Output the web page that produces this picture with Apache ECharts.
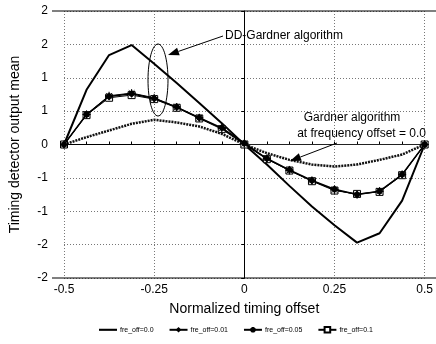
<!DOCTYPE html>
<html>
<head>
<meta charset="utf-8">
<script src="https://cdn.jsdelivr.net/npm/echarts@6/dist/echarts.min.js"></script>
<style>
  html, body { margin: 0; padding: 0; background: #fff; }
  #chart { width: 436px; height: 344px; }
</style>
</head>
<body>
<div id="chart"></div>
<script>
// Normalized timing offsets (sampling positions)
const timingOffset = [-0.5, -0.4375, -0.375, -0.3125, -0.25, -0.1875, -0.125, -0.0625, 0,
                      0.0625, 0.125, 0.1875, 0.25, 0.3125, 0.375, 0.4375, 0.5];

// DD-Gardner detector mean output, one curve per frequency offset
const ddOff000 = [0, 0.82, 1.34, 1.49, 1.21, 0.92, 0.62, 0.32, 0, -0.30, -0.62, -0.93, -1.21, -1.47, -1.33, -0.84, 0];
const ddOff001 = [0, 0.45, 0.72, 0.76, 0.69, 0.56, 0.40, 0.25, 0.02, -0.21, -0.38, -0.54, -0.67, -0.75, -0.70, -0.45, 0];
const ddOff005 = [0, 0.45, 0.73, 0.77, 0.70, 0.56, 0.40, 0.24, 0.01, -0.21, -0.39, -0.54, -0.68, -0.75, -0.70, -0.45, 0];
const ddOff010 = [0, 0.44, 0.70, 0.74, 0.68, 0.55, 0.39, 0.23, 0, -0.22, -0.39, -0.55, -0.69, -0.74, -0.71, -0.46, 0];

// Conventional Gardner detector at zero frequency offset
const gardnerOff000 = [0, 0.11, 0.21, 0.31, 0.37, 0.33, 0.27, 0.16, 0, -0.13, -0.23, -0.30, -0.33, -0.30, -0.23, -0.15, 0];

// Tick labels as printed on the value axis (rounded to integers)
const yTickLabels = ['-2', '-2', '-1', '-1', '0', '1', '1', '2', '2'];
const xTickValues = [-0.5, -0.25, 0, 0.25, 0.5];

const seriesNames = ['fre_off=0.0', 'fre_off=0.01', 'fre_off=0.05', 'fre_off=0.1'];

const pairs = ys => timingOffset.map((x, i) => [x, ys[i]]);

const FONT = 'Liberation Sans, Arial, sans-serif';
const asterisk = 'path://M5,0L5,10M0,5L10,5M1.5,1.5L8.5,8.5M1.5,8.5L8.5,1.5';
// bar centred in a taller box, used as a plain thick-line legend key
const thickLineIcon = 'path://M0,0L0,0M0,2.6L24,2.6L24,5.4L0,5.4ZM0,8L0,8';

function arrow(x1, y1, x2, y2) {
  // shaft from (x1,y1) to tip (x2,y2) with a filled head
  const ang = Math.atan2(y2 - y1, x2 - x1);
  const L = 11, W = 4;
  const bx = x2 - L * Math.cos(ang), by = y2 - L * Math.sin(ang);
  const px = -Math.sin(ang) * W, py = Math.cos(ang) * W;
  return [
    { type: 'line', shape: { x1: x1, y1: y1, x2: bx, y2: by }, style: { stroke: '#000', lineWidth: 1 }, z: 100 },
    { type: 'polygon', shape: { points: [[x2, y2], [bx + px, by + py], [bx - px, by - py]] }, style: { fill: '#000' }, z: 100 }
  ];
}

const chart = echarts.init(document.getElementById('chart'), null, { renderer: 'canvas' });

const option = {
  animation: false,
  backgroundColor: '#fff',
  textStyle: { fontFamily: FONT, color: '#000' },
  grid: { left: 63, right: 9, top: 11, bottom: 66 },
  legend: {
    data: [
      { name: seriesNames[0], icon: thickLineIcon },
      { name: seriesNames[1] },
      { name: seriesNames[2] },
      { name: seriesNames[3] }
    ],
    top: 321,
    left: 94,
    itemWidth: 18,
    itemHeight: 7,
    itemGap: 15,
    textStyle: { fontSize: 7, color: '#000', fontFamily: FONT, padding: [0, 0, 0, -2] }
  },
  xAxis: {
    type: 'value',
    min: -0.5,
    max: 0.5,
    interval: 0.25,
    name: 'Normalized timing offset',
    nameLocation: 'middle',
    nameGap: 24,
    nameTextStyle: { fontSize: 14, color: '#000', fontFamily: FONT },
    axisLine: { show: true, lineStyle: { color: '#000', width: 1 } },
    axisTick: { show: true, inside: true, length: 3, lineStyle: { color: '#000' } },
    minorTick: { show: true, splitNumber: 4, length: 3, lineStyle: { color: '#000' } },
    axisLabel: {
      fontSize: 12, color: '#000', margin: 6, fontFamily: FONT,
      formatter: v => (xTickValues.indexOf(+v.toFixed(4)) >= 0 ? String(+v.toFixed(2)) : '')
    },
    splitLine: { show: true, lineStyle: { color: '#777', type: [1, 2], width: 1 } }
  },
  yAxis: {
    type: 'value',
    min: -2,
    max: 2,
    interval: 0.5,
    offset: 11,
    name: 'Timing detector output mean',
    nameLocation: 'middle',
    nameGap: 31,
    nameTextStyle: { fontSize: 14, color: '#000', fontFamily: FONT },
    axisLine: { show: true, lineStyle: { color: '#000', width: 1 } },
    axisTick: { show: true, length: 3, lineStyle: { color: '#000' } },
    axisLabel: {
      fontSize: 12, color: '#000', margin: 5, fontFamily: FONT,
      formatter: (v, i) => yTickLabels[i]
    },
    splitLine: { show: true, lineStyle: { color: '#777', type: [1, 2], width: 1 } }
  },
  series: [
    {
      name: 'fre_off=0.0',
      type: 'line',
      data: pairs(ddOff000),
      symbol: 'none',
      lineStyle: { color: '#000', width: 2 },
      itemStyle: { color: '#000' },
      z: 3,
      markLine: {
        silent: true,
        symbol: 'none',
        label: { show: false },
        lineStyle: { color: '#222', width: 1, type: 'solid' },
        data: [[{ coord: [0, 0] }, { coord: [0.5, 0] }]]
      }
    },
    {
      name: 'gardner',
      type: 'line',
      data: pairs(gardnerOff000),
      symbol: 'none',
      smooth: false,
      lineStyle: { color: '#111', width: 2.5, type: [2, 1] },
      z: 2
    },
    {
      name: 'fre_off=0.1',
      type: 'line',
      data: pairs(ddOff010),
      symbol: 'rect',
      symbolSize: 7,
      lineStyle: { color: '#000', width: 1 },
      itemStyle: { color: '#fff', borderColor: '#000', borderWidth: 1 },
      z: 4
    },
    {
      name: 'fre_off=0.05',
      type: 'line',
      data: pairs(ddOff005),
      symbol: asterisk,
      symbolSize: 8,
      lineStyle: { color: '#000', width: 1 },
      itemStyle: { color: '#000', borderColor: '#000', borderWidth: 1 },
      z: 5
    },
    {
      name: 'fre_off=0.01',
      type: 'line',
      data: pairs(ddOff001),
      symbol: 'diamond',
      symbolSize: 8,
      lineStyle: { color: '#000', width: 1.5 },
      itemStyle: { color: '#000' },
      z: 6
    }
  ],
  graphic: [
    // frame lines spanning the full plot box
    { type: 'line', shape: { x1: 52, y1: 11, x2: 436, y2: 11 }, style: { stroke: '#000', lineWidth: 1 }, z: 50 },
    { type: 'line', shape: { x1: 52, y1: 278, x2: 436, y2: 278 }, style: { stroke: '#000', lineWidth: 1 }, z: 50 },
    // ellipse around the DD-Gardner peaks
    { type: 'ellipse', shape: { cx: 158, cy: 80, rx: 10, ry: 36 }, style: { fill: 'none', stroke: '#000', lineWidth: 1 }, z: 100 },
    ...arrow(223, 36, 168, 55),
    { type: 'text', x: 225, y: 36, style: { text: 'DD-Gardner algorithm', font: '12px ' + FONT, fill: '#000', textVerticalAlign: 'middle' }, z: 100 },
    { type: 'text', x: 352, y: 118, style: { text: 'Gardner algorithm', font: '12px ' + FONT, fill: '#000', textAlign: 'center', textVerticalAlign: 'middle' }, z: 100 },
    { type: 'text', x: 426, y: 134, style: { text: 'at frequency offset = 0.0', font: '12px ' + FONT, fill: '#000', textAlign: 'right', textVerticalAlign: 'middle' }, z: 100 },
    ...arrow(337, 143, 290, 161)
  ]
};

chart.setOption(option);
</script>
</body>
</html>
